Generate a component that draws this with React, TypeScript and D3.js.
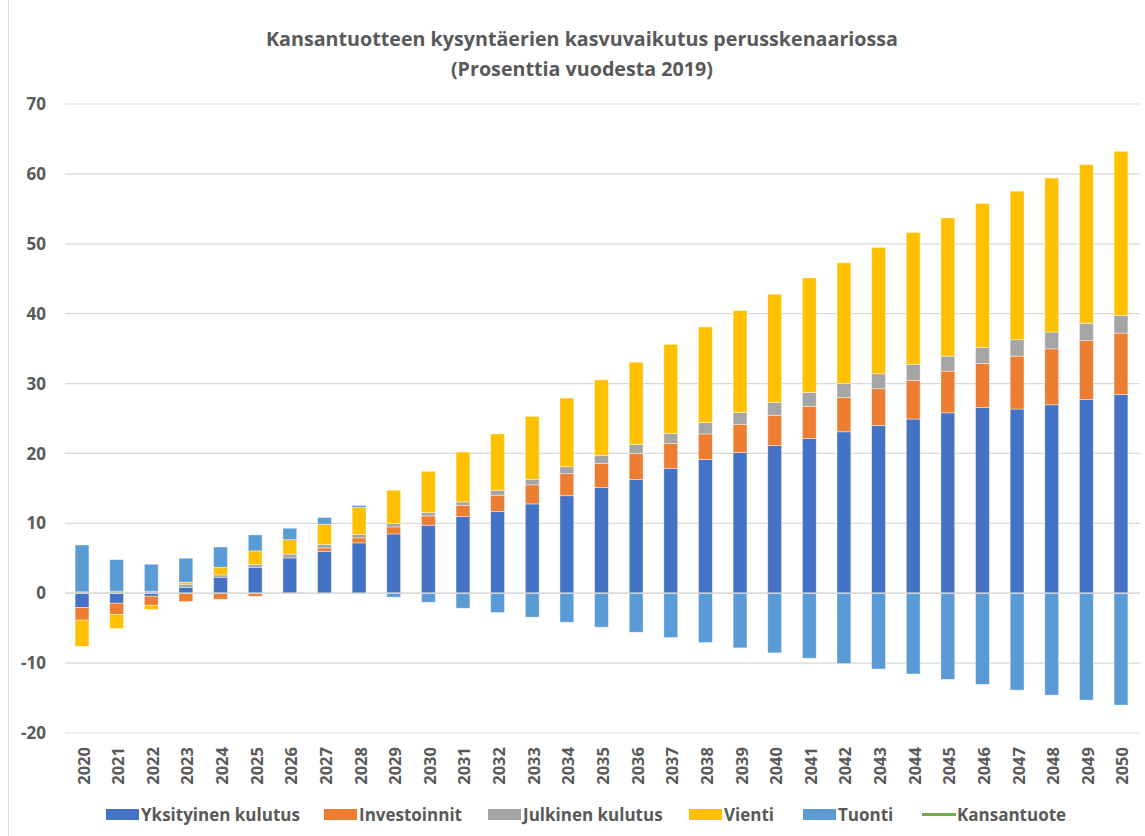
import React from "react";
import * as d3 from "d3";

const years = d3.range(2020, 2051).map(String);
const seriesNames = ["Yksityinen kulutus", "Investoinnit", "Julkinen kulutus", "Vienti", "Tuonti"];
const colors = ["#4472C4", "#ED7D31", "#A5A5A5", "#FFC000", "#5B9BD5"];
const lineName = "Kansantuote";
const lineColor = "#70AD47";

const yksityinen = [-2.05, -1.43, -0.43, 0.86, 2.29, 3.72, 5.05, 6.0, 7.2, 8.48, 9.73, 10.97, 11.69, 12.78, 13.95, 15.12, 16.26, 17.88, 19.12, 20.12, 21.13, 22.13, 23.1, 24.0, 24.93, 25.81, 26.58, 26.36, 26.96, 27.73, 28.44];
const investoinnit = [-1.8, -1.62, -1.29, -1.19, -0.86, -0.45, -0.05, 0.48, 0.71, 1.01, 1.33, 1.62, 2.33, 2.72, 3.15, 3.43, 3.72, 3.53, 3.67, 4.01, 4.33, 4.62, 4.92, 5.26, 5.54, 5.97, 6.3, 7.56, 8.0, 8.43, 8.77];
const julkinen = [0.2, 0.3, 0.3, 0.43, 0.33, 0.38, 0.55, 0.48, 0.53, 0.47, 0.48, 0.47, 0.72, 0.8, 1.0, 1.14, 1.29, 1.43, 1.63, 1.72, 1.82, 1.96, 1.98, 2.14, 2.24, 2.14, 2.3, 2.35, 2.41, 2.47, 2.52];
const vienti = [-3.75, -2.0, -0.62, 0.29, 1.1, 1.96, 2.06, 2.91, 3.82, 4.78, 5.91, 7.14, 8.06, 9.0, 9.82, 10.83, 11.78, 12.78, 13.68, 14.59, 15.5, 16.4, 17.28, 18.08, 18.91, 19.78, 20.6, 21.26, 22.03, 22.69, 23.5];
const tuonti = [6.7, 4.5, 3.85, 3.43, 2.9, 2.29, 1.64, 0.96, 0.29, -0.57, -1.29, -2.15, -2.77, -3.43, -4.15, -4.86, -5.58, -6.34, -7.06, -7.82, -8.54, -9.3, -10.07, -10.85, -11.56, -12.33, -13.04, -13.86, -14.58, -15.29, -16.0];
const yTicks = [70, 60, 50, 40, 30, 20, 10, 0, -10, -20];

const title1 = "Kansantuotteen kysyntäerien kasvuvaikutus perusskenaariossa";
const title2 = "(Prosenttia vuodesta 2019)";

const W = 1145;
const H = 836;
const FONT = "'Open Sans', 'Noto Sans', sans-serif";
const TEXT = "#595959";

export default function App() {
  const allSeries = [yksityinen, investoinnit, julkinen, vienti, tuonti];
  const rows = years.map((yr, i) => {
    const r: any = { year: yr };
    seriesNames.forEach((n, k) => (r[n] = allSeries[k][i]));
    return r;
  });
  const stacked = d3.stack<any>().keys(seriesNames).offset(d3.stackOffsetDiverging)(rows);

  const x = d3.scaleBand<string>().domain(years).range([64.7, 1138.3]).paddingInner(0.6).paddingOuter(0.3);
  const y = d3.scaleLinear().domain([-20, 70]).range([733, 104]);

  const legendItems = [
    { name: seriesNames[0], color: colors[0], x: 106, type: "rect" },
    { name: seriesNames[1], color: colors[1], x: 324, type: "rect" },
    { name: seriesNames[2], color: colors[2], x: 488, type: "rect" },
    { name: seriesNames[3], color: colors[3], x: 689, type: "rect" },
    { name: seriesNames[4], color: colors[4], x: 803, type: "rect" },
    { name: lineName, color: lineColor, x: 922, type: "line" },
  ];

  return (
    <svg width={W} height={H} style={{ position: "absolute", left: 0, top: 0, background: "#fff" }} fontFamily={FONT}>
      <rect x={0} y={0} width={W} height={H} fill="#fff" />
      <line x1={8.5} x2={8.5} y1={0} y2={H} stroke="#D9D9D9" strokeWidth={1} />
      <text x={582} y={46} textAnchor="middle" fontSize={19.7} fontWeight="bold" fill={TEXT}>{title1}</text>
      <text x={582} y={76} textAnchor="middle" fontSize={19.7} fontWeight="bold" fill={TEXT}>{title2}</text>

      {yTicks.map((t) => (
        <g key={t}>
          <line x1={65} x2={1140} y1={y(t)} y2={y(t)} stroke="#D9D9D9" strokeWidth={1.2} />
          <text x={46} y={y(t)} dy="0.36em" textAnchor="end" fontSize={17} fontWeight="bold" fill={TEXT}>{t}</text>
        </g>
      ))}

      {stacked.map((s, k) => (
        <g key={s.key} fill={colors[k]}>
          {s.map((d, i) => {
            const y0 = Math.min(y(d[0]), y(d[1]));
            const h = Math.abs(y(d[0]) - y(d[1]));
            return (
              <rect key={i} x={x(years[i])} y={y0} width={x.bandwidth()} height={h} stroke="#ffffff" strokeOpacity={0.55} strokeWidth={0.75} />
            );
          })}
        </g>
      ))}

      <line x1={65} x2={1140} y1={y(0)} y2={y(0)} stroke="#D9D9D9" strokeWidth={1.2} />

      {years.map((yr) => {
        const cx = (x(yr) as number) + x.bandwidth() / 2;
        return (
          <text key={yr} transform={`translate(${cx + 1},747) rotate(-90)`} textAnchor="end" dominantBaseline="central" fontSize={16.5} fontWeight="bold" fill={TEXT}>{yr}</text>
        );
      })}

      {legendItems.map((it) => (
        <g key={it.name}>
          {it.type === "rect" ? (
            <rect x={it.x} y={809} width={33} height={11} fill={it.color} />
          ) : (
            <line x1={it.x} x2={it.x + 34} y1={814.5} y2={814.5} stroke={it.color} strokeWidth={3} />
          )}
          <text x={it.x + 35} y={821} fontSize={17} fontWeight="bold" fill={TEXT}>{it.name}</text>
        </g>
      ))}
    </svg>
  );
}
